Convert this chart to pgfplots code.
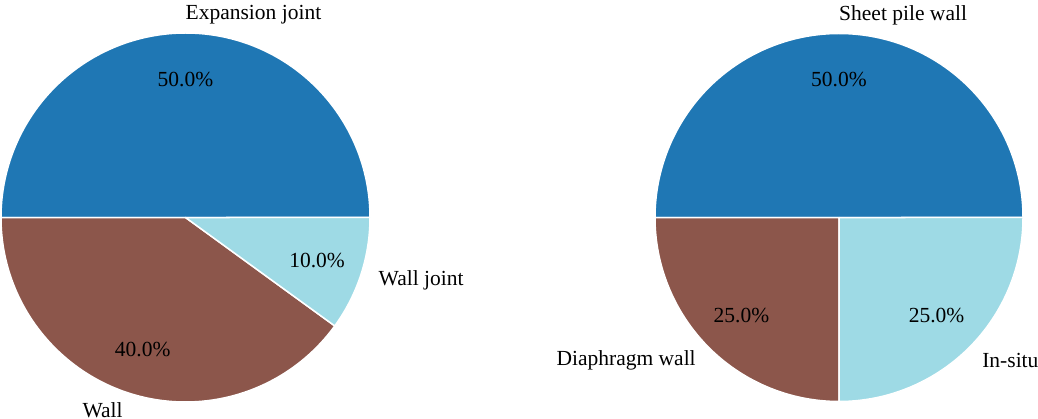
\documentclass[border=0pt]{standalone}
\usepackage{pgfplots}
\pgfplotsset{compat=1.18}
\usepackage{fontspec}
\setmainfont{Liberation Serif}

\definecolor{pieblue}{HTML}{1F77B4}
\definecolor{piebrown}{HTML}{8C564B}
\definecolor{piecyan}{HTML}{9EDAE5}

% Draws the wedges of one pie inside the current axis (unit circle).
% #1 = radius of one axis unit in pt, #2 = list of value/colour/label
\newcommand\pieslices[2]{%
  \gdef\piecum{0}%
  \foreach \val/\col/\lab in {#2} {%
    \pgfmathsetmacro\angA{3.6*\piecum}%
    \pgfmathsetmacro\angB{3.6*(\piecum+\val)}%
    \pgfmathsetmacro\angM{(\angA+\angB)/2}%
    \pgfmathsetmacro\cA{cos(\angA)}%
    \pgfmathsetmacro\sA{sin(\angA)}%
    \pgfmathsetmacro\cM{cos(\angM)}%
    \pgfmathsetmacro\sM{sin(\angM)}%
    \pgfmathtruncatemacro\isright{\cM>-0.001 ? 1 : 0}%
    \ifnum\isright=1 \def\anc{west}\else\def\anc{east}\fi
    \edef\temp{%
      \noexpand\fill[\col, draw=white, line width=1.5pt, line join=round]
        (axis cs:0,0) -- (axis cs:\cA,\sA)
        arc[start angle=\angA, end angle=\angB, radius=#1pt] -- cycle;
      \noexpand\node[inner sep=0pt] at (axis cs:{0.75*\cM},{0.75*\sM})
        {\noexpand\pgfmathprintnumber[fixed,fixed zerofill,precision=1,assume math mode=true]{\val}\noexpand\%};
      \noexpand\node[inner sep=0pt, anchor=\anc] at (axis cs:{1.1*\cM},{1.1*\sM}) {\lab};
    }%
    \temp
    \pgfmathsetmacro\newcum{\piecum+\val}%
    \xdef\piecum{\newcum}%
  }%
}

\pgfplotsset{
  pieaxis/.style={
    hide axis, scale only axis, anchor=center, clip=false,
    xmin=-1, xmax=1, ymin=-1, ymax=1, enlargelimits=false,
  },
}

\begin{document}
\fontsize{21.5}{25.8}\selectfont
\begin{tikzpicture}
\path[use as bounding box] (0,0) rectangle (1038pt,418pt);

\begin{axis}[pieaxis, at={(185.5pt,200.5pt)}, width=369pt, height=369pt]
  \pieslices{184.5}{50/pieblue/Expansion joint, 40/piebrown/Wall, 10/piecyan/Wall joint}
\end{axis}

\begin{axis}[pieaxis, at={(839pt,200.5pt)}, width=368pt, height=368pt]
  \pieslices{184}{50/pieblue/Sheet pile wall, 25/piebrown/Diaphragm wall, 25/piecyan/In-situ wall}
\end{axis}
\end{tikzpicture}
\end{document}
